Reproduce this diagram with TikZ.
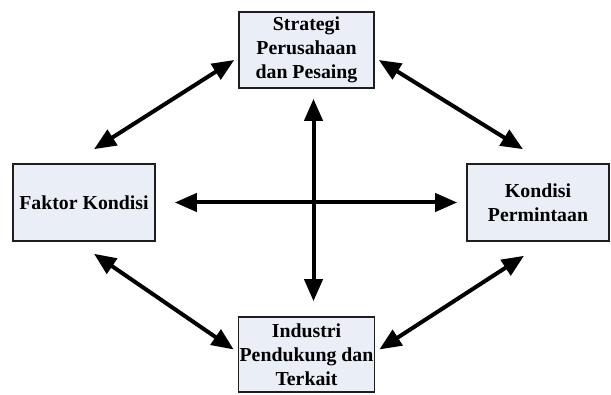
\documentclass[tikz,border=0pt]{standalone}
\usepackage{fontspec}
\setmainfont{Liberation Serif}
\usetikzlibrary{arrows.meta}
\definecolor{boxfill}{RGB}{233,238,247}
\definecolor{boxline}{RGB}{30,30,30}

\begin{document}
\begin{tikzpicture}[x=1pt, y=1pt,
    factor/.style={draw=boxline, fill=boxfill, line width=1.6pt, align=center, inner xsep=0.5pt, inner ysep=2pt, font=\bfseries\fontsize{19.8}{24}\selectfont},
    arr/.style={line width=4pt, {Triangle[length=22pt,width=18pt]}-{Triangle[length=22pt,width=18pt]}}
  ]
  \useasboundingbox (0,0) rectangle (611,394);

  % Strategi Perusahaan dan Pesaing
  \node[factor, minimum width=135pt, minimum height=76pt] (top) at (306.5, 344) {Strategi\\Perusahaan\\dan Pesaing};

  % Faktor Kondisi
  \node[factor, minimum width=142pt, minimum height=77pt] (left) at (84, 191.5) {Faktor Kondisi};

  % Kondisi Permintaan
  \node[factor, minimum width=142pt, minimum height=77pt] (right) at (538, 191.5) {Kondisi\\Permintaan};

  % Industri Pendukung dan Terkait
  \node[factor, minimum width=136pt, minimum height=75pt] (bottom) at (306.5, 39.5) {Industri\\Pendukung dan\\Terkait};

  % cross in the middle
  \draw[arr, shorten <=10pt, shorten >=15pt] ([xshift=7pt]top.south) -- ([xshift=7pt]bottom.north);
  \draw[arr, shorten <=19pt, shorten >=9pt] (left.east) -- (right.west);

  % diagonals
  \draw[arr] ([xshift=10pt,yshift=14pt]left.north) -- ([xshift=-4pt,yshift=-10pt]top.west);
  \draw[arr] ([xshift=4pt,yshift=-10pt]top.east) -- ([xshift=-15pt,yshift=14pt]right.north);
  \draw[arr] ([xshift=10pt,yshift=-12pt]left.south) -- ([xshift=-4pt,yshift=5pt]bottom.west);
  \draw[arr] ([xshift=4pt,yshift=5pt]bottom.east) -- ([xshift=-14pt,yshift=-14pt]right.south);
\end{tikzpicture}
\end{document}
